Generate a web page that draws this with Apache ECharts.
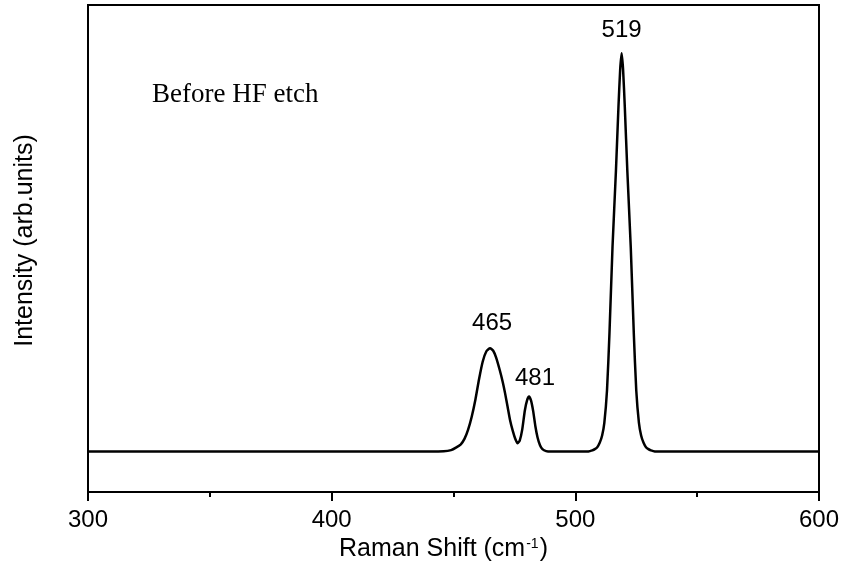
<!DOCTYPE html>
<html>
<head>
<meta charset="utf-8">
<script src="https://cdn.jsdelivr.net/npm/echarts@6/dist/echarts.min.js"></script>
<style>
  html, body { margin: 0; padding: 0; background: #fff; }
  #chart { width: 842px; height: 561px; }
</style>
</head>
<body>
<div id="chart"></div>
<script>
// Raman spectrum, before HF etch
const ramanShift = [
  300, 350, 400, 430, 440, 446, 449, 451, 453, 454.5, 456, 457.5, 459, 460.5, 462, 463.5,
  465, 466.3, 467.5, 469, 470.2, 471.2, 472.2, 473.2, 474.3, 475.3, 476.3, 477.2, 478.2,
  479.3, 480.3, 481, 481.8, 482.7, 483.6, 484.5, 485.5, 486.5, 488, 490, 500,
  505, 506, 507, 508, 509, 510, 511, 511.9, 513, 514, 515.25, 516.65, 517.7, 518.4,
  519, 519.6, 520.3, 521.35, 522.75, 524, 525, 526.1, 527, 528, 529, 530, 531, 532, 533,
  550, 600
];
const intensity = [
  8.3, 8.3, 8.3, 8.3, 8.3, 8.35, 8.6, 9.1, 9.8, 10.9, 12.8, 15.5, 19.0, 23.2, 26.8, 28.9,
  29.5, 29.0, 27.6, 25.0, 22.6, 20.2, 17.5, 14.8, 12.6, 11.0, 10.0, 10.6, 12.8,
  16.8, 19.0, 19.6, 18.8, 16.6, 13.5, 11.2, 9.6, 8.8, 8.4, 8.3, 8.3,
  8.3, 8.4, 8.55, 8.8, 9.2, 10.1, 11.6, 14.2, 20.9, 32.5, 50.2, 65.8, 79.1, 86.7,
  90.1, 86.7, 79.1, 65.8, 50.2, 32.5, 20.9, 14.2, 11.6, 10.1, 9.2, 8.8, 8.55, 8.4, 8.3,
  8.3, 8.3
];
// Labelled band positions (cm^-1)
const peakPositions = [465, 481, 519];
const xTicks = [300, 400, 500, 600];

// per-label placement: [horizontal nudge in px, distance above peak]
const labelPlacement = { 465: [2, 12], 481: [6, 5], 519: [0, 10] };

const sans = 'Liberation Sans, Arial, sans-serif';

const lineData = ramanShift.map((x, i) => [x, intensity[i]]);
const peakData = peakPositions.map((x) => {
  const y = intensity[ramanShift.indexOf(x)];
  const p = labelPlacement[x];
  return {
    value: [x, y],
    label: {
      show: true, position: 'top', distance: p[1],
      padding: [0, 0, 0, 2 * p[0]],
      color: '#000', opacity: 1, fontFamily: sans, fontSize: 24
    }
  };
});

const chart = echarts.init(document.getElementById('chart'), null, { renderer: 'canvas' });
chart.setOption({
  animation: false,
  backgroundColor: '#fff',
  grid: {
    left: 88, right: 23, top: 5, bottom: 69,
    outerBoundsMode: 'none',
    containLabel: false,
    show: true, borderColor: '#000', borderWidth: 2, backgroundColor: 'transparent'
  },
  xAxis: {
    type: 'value',
    min: xTicks[0],
    max: xTicks[xTicks.length - 1],
    interval: 100,
    name: '{a|Raman Shift (cm}{s|-1}{a|)}',
    nameLocation: 'middle',
    nameGap: 30,
    nameTextStyle: {
      padding: [0, 20, 0, 0],
      rich: {
        a: { fontFamily: sans, fontSize: 25, color: '#000' },
        s: { fontFamily: sans, fontSize: 14, color: '#000', verticalAlign: 'top', padding: [0, 1, 10, 1] }
      }
    },
    axisLine: { show: true, onZero: false, lineStyle: { color: '#000', width: 2 } },
    axisTick: { show: true, inside: false, length: 9, lineStyle: { color: '#000', width: 2 } },
    minorTick: { show: true, splitNumber: 2, length: 5, lineStyle: { color: '#000', width: 2 } },
    splitLine: { show: false },
    axisLabel: { margin: 16, fontFamily: sans, fontSize: 24, color: '#000' }
  },
  yAxis: {
    type: 'value',
    min: 0,
    max: 100,
    name: 'Intensity (arb.units)',
    nameLocation: 'middle',
    nameGap: 50,
    nameTextStyle: { fontFamily: sans, fontSize: 25, color: '#000', padding: [0, 0, 0, 16] },
    axisLine: { show: true, onZero: false, lineStyle: { color: '#000', width: 2 } },
    axisTick: { show: false },
    axisLabel: { show: false },
    splitLine: { show: false }
  },
  graphic: [{
    type: 'text',
    left: 152,
    top: 81,
    style: {
      text: 'Before HF etch',
      font: '27px "Liberation Serif", "Times New Roman", serif',
      fill: '#000'
    }
  }],
  series: [{
    type: 'line',
    data: lineData,
    showSymbol: false,
    symbol: 'none',
    smooth: 0.2,
    lineStyle: { color: '#000', width: 2.5 },
    silent: true
  }, {
    type: 'scatter',
    data: peakData,
    symbol: 'circle',
    symbolSize: 2,
    itemStyle: { color: 'rgba(255,255,255,0)', opacity: 1 },
    silent: true,
    label: {
      show: true,
      position: 'top',
      formatter: (d) => String(d.value[0]),
      fontFamily: sans,
      fontSize: 24,
      color: '#000',
      opacity: 1
    },
    labelLayout: { hideOverlap: false }
  }]
});
</script>
</body>
</html>
